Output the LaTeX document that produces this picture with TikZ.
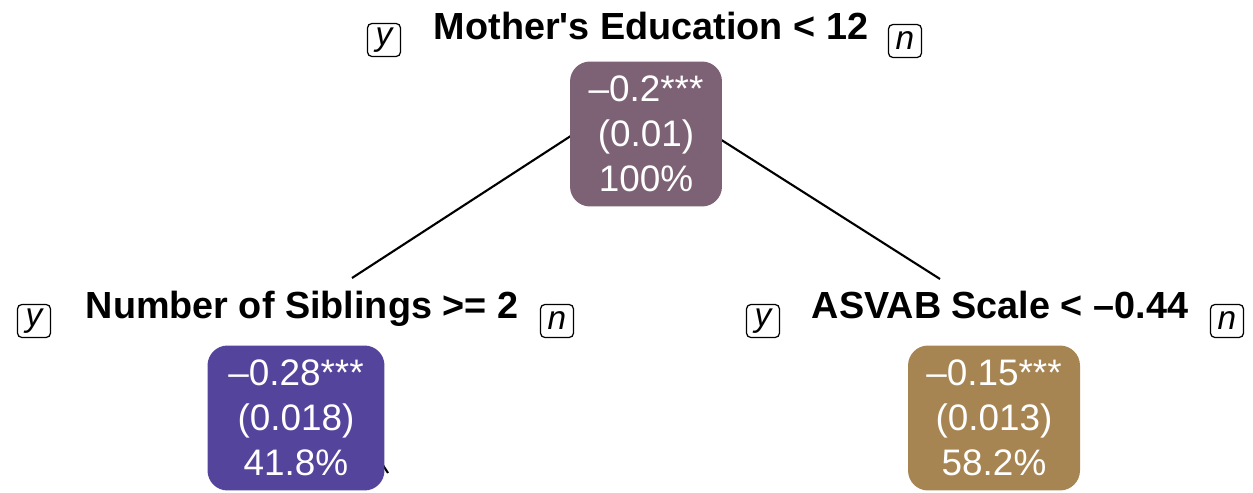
\documentclass[tikz,border=0pt]{standalone}
\usepackage{fontspec}
\setmainfont{Liberation Sans}
\usetikzlibrary{positioning}

\definecolor{rootfill}{HTML}{7D6275}
\definecolor{leftfill}{HTML}{55449C}
\definecolor{rightfill}{HTML}{A68553}

\begin{document}
\begin{tikzpicture}[x=0.02cm, y=-0.02cm,
    split/.style={font=\bfseries\fontsize{21.5}{26}\selectfont, inner sep=0pt, anchor=base},
    leaf/.style={rounded corners=0.4cm, minimum width=3.04cm, minimum height=2.9cm,
        text=white, align=center, inner sep=0pt, font=\fontsize{21}{25.6}\selectfont},
    yn/.style={draw, line width=0.7pt, rounded corners=2.5pt, minimum size=0.66cm,
        inner sep=0pt, font=\itshape\fontsize{19}{19}\selectfont},
    branch/.style={line width=1.2pt}]
    \useasboundingbox (0,0) rectangle (1253,493);

    % Branches, drawn first so the boxes cover their ends
    \coordinate (leftend) at (352,278);
    \coordinate (rightend) at (940,279);
    \coordinate (rootl) at (600,117);
    \coordinate (rootr) at (690,120);
    \coordinate (leftcut) at (388,473);
    \draw[branch] (leftend) -- (rootl);
    \draw[branch] (rightend) -- (rootr);
    \draw[branch] (leftcut) -- (370,445);

    % Split labels
    \node[split] (rootlab) at (651,40) {Mother\textquotesingle s Education < 12};
    \node[split] (leftlab) at (302,318) {Number of Siblings >= 2};
    \node[split] (rightlab) at (1000,318) {ASVAB Scale < –0.44};

    % y / n boxes
    \node[yn] (rooty) at (384,40) {y};
    \node[yn] (rootn) at (905,41) {n};
    \node[yn] (lefty) at (34,321) {y};
    \node[yn] (leftn) at (557,321) {n};
    \node[yn] (righty) at (763,321) {y};
    \node[yn] (rightn) at (1227,321) {n};

    % Estimates
    \node[leaf, fill=rootfill] (root) at (646,134) {–0.2***\\(0.01)\\100\%};
    \node[leaf, fill=leftfill, minimum width=3.54cm] (left) at (296,418) {–0.28***\\(0.018)\\41.8\%};
    \node[leaf, fill=rightfill, minimum width=3.44cm] (right) at (994,418) {–0.15***\\(0.013)\\58.2\%};
\end{tikzpicture}
\end{document}
